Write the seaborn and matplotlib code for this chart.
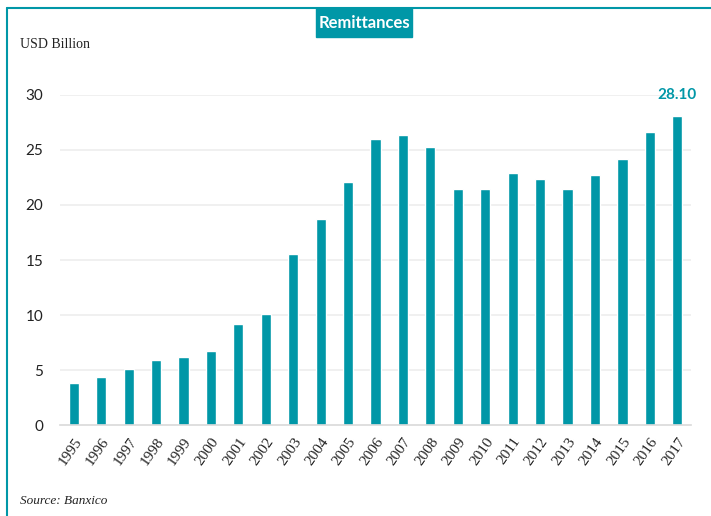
import matplotlib
matplotlib.use("Agg")
import matplotlib.pyplot as plt
import seaborn as sns
import pandas as pd
from matplotlib.patches import Rectangle
from matplotlib.lines import Line2D

years = [str(y) for y in range(1995, 2018)]
remittances = [3.88, 4.36, 5.15, 5.95, 6.2, 6.8, 9.23, 10.15, 15.56, 18.75,
               22.1, 25.96, 26.35, 25.3, 21.46, 21.46, 22.9, 22.4, 21.46,
               22.76, 24.13, 26.66, 28.10]
yticks = [0, 5, 10, 15, 20, 25, 30]

teal = "#0097a7"

df = pd.DataFrame({"year": years, "value": remittances})

sns.set_theme(style="white")
plt.rcParams["font.family"] = ["Lato", "DejaVu Sans"]

fig = plt.figure(figsize=(7.11, 5.16), dpi=100)
ax = fig.add_axes([0.0844, 0.1754, 0.8875, 0.641])

sns.barplot(data=df, x="year", y="value", color=teal, width=0.37,
            saturation=1, ax=ax)

ax.set_xlim(-0.5, len(years) - 0.5)
ax.set_ylim(0, 30)
ax.set_yticks(yticks)
ax.set_yticklabels([str(t) for t in yticks], fontsize=11, color="#222222")
ax.set_xticks(range(len(years)))
ax.set_xticklabels(years, rotation=55, ha="right", rotation_mode="anchor",
                   fontsize=11, color="#222222", family="Liberation Serif")
ax.tick_params(axis="both", length=0, pad=12)
ax.tick_params(axis="x", pad=7)
ax.set_xlabel("")
ax.set_ylabel("")
for v in yticks[1:]:
    ax.axhline(v, color="#eeeeee", lw=1.2, zorder=0)
for s in ["top", "right", "left"]:
    ax.spines[s].set_visible(False)
ax.spines["bottom"].set_color("#d9d9d9")
ax.spines["bottom"].set_linewidth(1.2)

# label for the last bar
ax.annotate(f"{remittances[-1]:.2f}", xy=(len(years) - 1, remittances[-1]),
            xytext=(0, 10), textcoords="offset points", ha="center",
            va="bottom", color=teal, fontsize=11, fontweight="bold",
            annotation_clip=False)

# frame lines and title box
fig.add_artist(Line2D([7 / 711, 1], [1 - 8 / 516, 1 - 8 / 516],
                      transform=fig.transFigure, color=teal, lw=1.5))
fig.add_artist(Line2D([7 / 711, 7 / 711], [0, 1 - 8 / 516],
                      transform=fig.transFigure, color=teal, lw=1.5))
fig.add_artist(Rectangle((316 / 711, 1 - 37 / 516), 96 / 711, 29 / 516,
                         transform=fig.transFigure, color=teal))
fig.text(364 / 711, 1 - 23 / 516, "Remittances", ha="center", va="center",
         color="white", fontsize=12, fontweight="bold")

fig.text(20 / 711, 1 - 44 / 516, "USD Billion", ha="left", va="center",
         fontsize=10, family="Liberation Serif", color="#222222")
fig.text(20 / 711, 1 - 501 / 516, "Source: Banxico", ha="left", va="center",
         fontsize=9.5, family="Liberation Serif", style="italic",
         color="#222222")

fig.savefig("out.png", dpi=100)
